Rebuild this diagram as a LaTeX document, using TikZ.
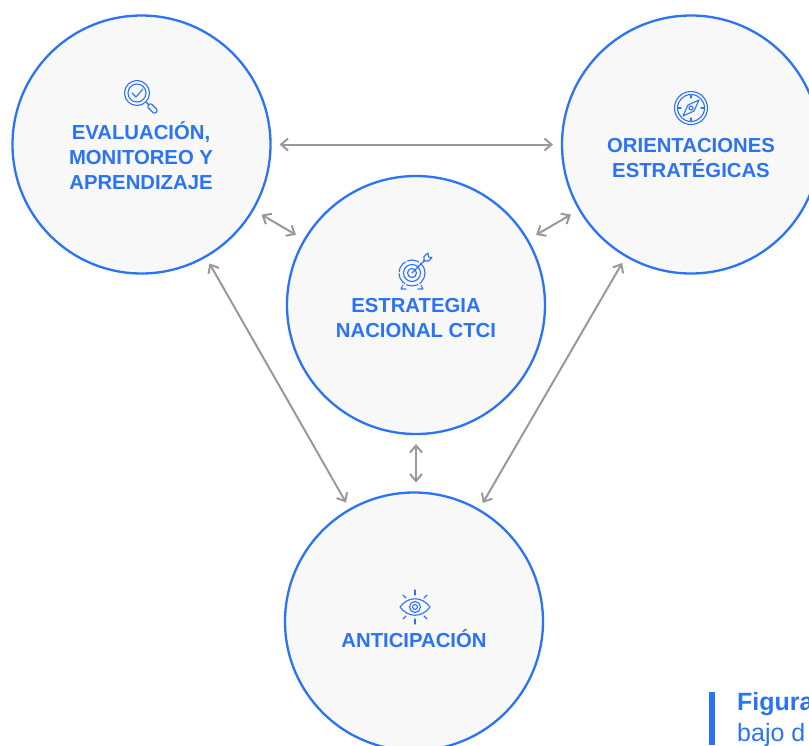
\documentclass[tikz,border=0pt]{standalone}
\usepackage{fontspec}
\setmainfont{Liberation Sans}
\definecolor{bl}{HTML}{2B73F6}
\definecolor{gy}{HTML}{999999}
\definecolor{fl}{HTML}{F8F8F8}
\usetikzlibrary{arrows.meta}
\tikzset{
 bubble/.style={circle,draw=bl,fill=fl,line width=2.3pt,minimum size=258pt,inner sep=0pt,outer sep=0pt},
 lab/.style={text=bl,font=\fontsize{20.3}{24.6}\selectfont\bfseries,align=center,inner sep=0pt},
 link/.style={draw=gy,line width=2pt,{Straight Barb[length=7pt,width=12pt]}-{Straight Barb[length=7pt,width=12pt]}},
 ic/.style={draw=bl,line width=1.1pt,line cap=round,line join=round},
}
\begin{document}
\begin{tikzpicture}[x=1pt,y=-1pt]
\useasboundingbox (0,0) rectangle (809,745);
\clip (0,0) rectangle (809,745);
\node[bubble] (ev) at (141.5,144.5) {};
\node[bubble] (or) at (691,144.5) {};
\node[bubble] (es) at (416,305) {};
\node[bubble] (an) at (414,621.5) {};
\draw[link,shorten <=9pt,shorten >=9pt] (ev) -- (or);
\draw[link,shorten <=10pt,shorten >=10pt] (ev) -- (es);
\draw[link,shorten <=10pt,shorten >=10pt] (or) -- (es);
\draw[link,shorten <=8pt,shorten >=8pt] (ev) -- (an);
\draw[link,shorten <=8pt,shorten >=8pt] (or) -- (an);
\draw[link,shorten <=10pt,shorten >=10pt] (es) -- (es|-an.north);
\node[lab] (t1) at (141,155.5) {EVALUACIÓN,\\MONITOREO Y\\APRENDIZAJE};
\node[lab] (t2) at (691,158) {ORIENTACIONES\\ESTRATÉGICAS};
\node[lab] (t3) at (416,318) {ESTRATEGIA\\NACIONAL CTCI};
\node[lab] (t4) at (414,639) {ANTICIPACIÓN};
% magnifier
\draw[ic] (137,93) circle (12.5) (137,93) circle (9);
\draw[ic] (132,93) -- (136,97) -- (143,89);
\draw[ic] (146,102) -- (149,105);
\draw[ic,rounded corners=2pt] (147,106.5) -- (150.5,103) -- (158,110.5) -- (154.5,114) -- cycle;
% compass
\draw[ic] (691,108) circle (16.5) (691,108) circle (13.5);
\draw[ic] (691,95) -- (691,98) (691,118) -- (691,121) (678,108) -- (681,108) (701,108) -- (704,108);
\draw[ic] (699,100) -- (694,111) -- (683,116) -- (688,105) -- cycle;
\draw[ic] (691,108) circle (2);
% target
\draw[ic,dash pattern=on 12pt off 2pt] (412,273) circle (13);
\draw[ic] (412,273) circle (8.5) (412,273) circle (4.5);
\draw[ic] (412,273) -- (425,260);
\draw[ic] (424,261) -- (424,256.5) -- (428,253) -- (428.5,257) -- (432,257.5) -- (428.5,261) -- cycle;
\draw[ic] (403,285) -- (401,289) -- (406,289) (421,285) -- (423,289) -- (418,289);
% eye
\draw[ic] (400,607) .. controls (408,596) and (422,596) .. (430,607) .. controls (422,618) and (408,618) .. (400,607) -- cycle;
\draw[ic] (415,607) circle (5.5) (415,607) circle (2.5);
\draw[ic] (415,590) -- (415,595) (415,619) -- (415,624);
\draw[ic] (403,595) -- (406,598) (427,595) -- (424,598) (403,619) -- (406,616) (427,619) -- (424,616);
% caption
\fill[bl] (709,692) rectangle (715,745);
\node[text=bl,font=\fontsize{25}{30}\selectfont\bfseries,anchor=base west,inner sep=0pt] (cap1) at (737,710.5) {Figura};
\node[text=bl,font=\fontsize{25}{30}\selectfont,anchor=base west,inner sep=0pt] (cap2) at (737,741) {bajo d};
\end{tikzpicture}
\end{document}
